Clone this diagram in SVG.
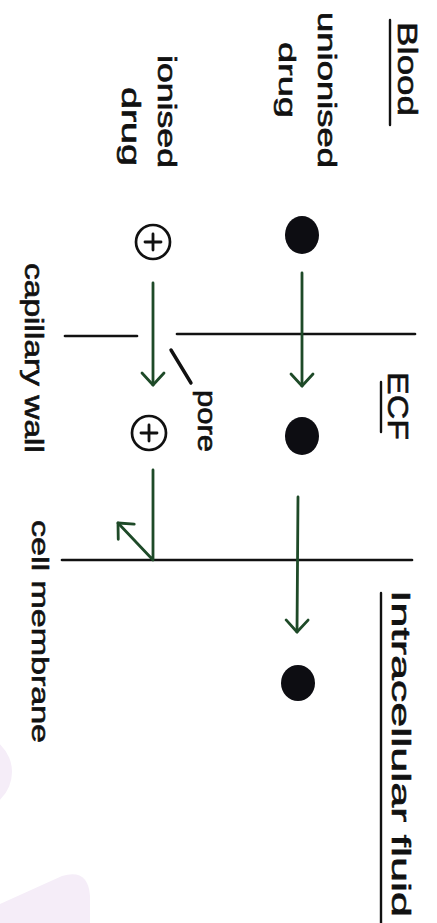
<svg xmlns="http://www.w3.org/2000/svg" width="437" height="923" viewBox="0 0 437 923">
<style>
.t{font-family:"Liberation Sans","DejaVu Sans",sans-serif;fill:#111;stroke:#111;stroke-width:0.6;}
.wall{stroke:#111;stroke-width:2.7;stroke-linecap:round;fill:none;}
.ul{stroke:#111;stroke-width:2.4;stroke-linecap:round;}
.arr{stroke:#1e4a28;stroke-width:2.8;stroke-linecap:round;stroke-linejoin:round;fill:none;marker-end:url(#ah);}
.dot{fill:#0d0d12;}
.ion{fill:#fff;stroke:#111;stroke-width:2.7;}
.plus{stroke:#111;stroke-width:2.8;stroke-linecap:round;}
.blob{fill:#f5edf8;}
</style>
<defs>
<marker id="ah" markerUnits="userSpaceOnUse" viewBox="-16 -16 32 32" markerWidth="32" markerHeight="32" refX="0" refY="0" orient="auto">
<path d="M-12,-11 L0,0 L-12,11" fill="none" stroke="#1e4a28" stroke-width="2.8" stroke-linecap="round" stroke-linejoin="round"/>
</marker>
</defs>
<rect width="437" height="923" fill="#fff"/>
<g id="background">
<circle class="blob" cx="-26" cy="772" r="38"/>
<path class="blob" d="M0,923 L0,904 L62,876 Q88,868 90,896 L90,923 Z"/>
</g>
<g id="walls">
<line class="wall" x1="65" y1="336" x2="137" y2="336"/>
<line class="wall" x1="177" y1="334" x2="415" y2="334"/>
<line class="wall" x1="62" y1="560" x2="412" y2="560"/>
</g>
<g id="connectors">
<line class="arr" x1="302" y1="273" x2="302" y2="386"/>
<line class="arr" x1="153" y1="283" x2="153" y2="385"/>
<polyline class="arr" points="153,470 153,560 118,523"/>
<line class="arr" x1="298" y1="497" x2="297" y2="632"/>
<line x1="171" y1="350" x2="191" y2="383" stroke="#111" stroke-width="3.4" stroke-linecap="round"/>
</g>
<g id="label-blood">
<text class="t" font-size="28" textLength="94" lengthAdjust="spacingAndGlyphs" transform="translate(398,22) rotate(90)">Blood</text>
<line class="ul" x1="390" y1="20" x2="390" y2="125"/>
</g>
<g id="label-unionised">
<text class="t" font-size="25" textLength="156" lengthAdjust="spacingAndGlyphs" transform="translate(318,12) rotate(90)">unionised</text>
<text class="t" font-size="24" textLength="76" lengthAdjust="spacingAndGlyphs" transform="translate(279,42) rotate(90)">drug</text>
</g>
<g id="label-ionised">
<text class="t" font-size="25" textLength="113" lengthAdjust="spacingAndGlyphs" transform="translate(158,55) rotate(90)">ionised</text>
<text class="t" font-size="25" textLength="79" lengthAdjust="spacingAndGlyphs" transform="translate(122,87) rotate(90)">drug</text>
</g>
<g id="label-capillary-wall">
<text class="t" font-size="26" textLength="190" lengthAdjust="spacingAndGlyphs" transform="translate(25,263) rotate(90)">capillary wall</text>
</g>
<g id="label-cell-membrane">
<text class="t" font-size="24" textLength="223" lengthAdjust="spacingAndGlyphs" transform="translate(32,520) rotate(90)">cell membrane</text>
</g>
<g id="label-pore">
<text class="t" font-size="26" textLength="62" lengthAdjust="spacingAndGlyphs" transform="translate(198,390) rotate(90)">pore</text>
</g>
<g id="label-ecf">
<text class="t" font-size="30" textLength="68" lengthAdjust="spacingAndGlyphs" transform="translate(388,372) rotate(90)">ECF</text>
<line class="ul" x1="381" y1="382" x2="381" y2="432"/>
</g>
<g id="label-icf">
<text class="t" font-size="26" textLength="327" lengthAdjust="spacingAndGlyphs" transform="translate(392,590) rotate(90)">Intracellular fluid</text>
<line class="ul" x1="381" y1="593" x2="381" y2="923"/>
</g>
<g id="unionised-blood"><ellipse class="dot" cx="302" cy="235" rx="17" ry="19"/></g>
<g id="unionised-ecf"><ellipse class="dot" cx="302" cy="436" rx="17" ry="19"/></g>
<g id="unionised-icf"><ellipse class="dot" cx="298" cy="683" rx="17" ry="18"/></g>
<g id="ionised-blood">
<circle class="ion" cx="153" cy="242" r="17"/>
<line class="plus" x1="145" y1="242" x2="161" y2="242"/>
<line class="plus" x1="153" y1="234" x2="153" y2="250"/>
</g>
<g id="ionised-ecf">
<circle class="ion" cx="149" cy="433" r="17"/>
<line class="plus" x1="141" y1="433" x2="157" y2="433"/>
<line class="plus" x1="149" y1="425" x2="149" y2="441"/>
</g>
</svg>
